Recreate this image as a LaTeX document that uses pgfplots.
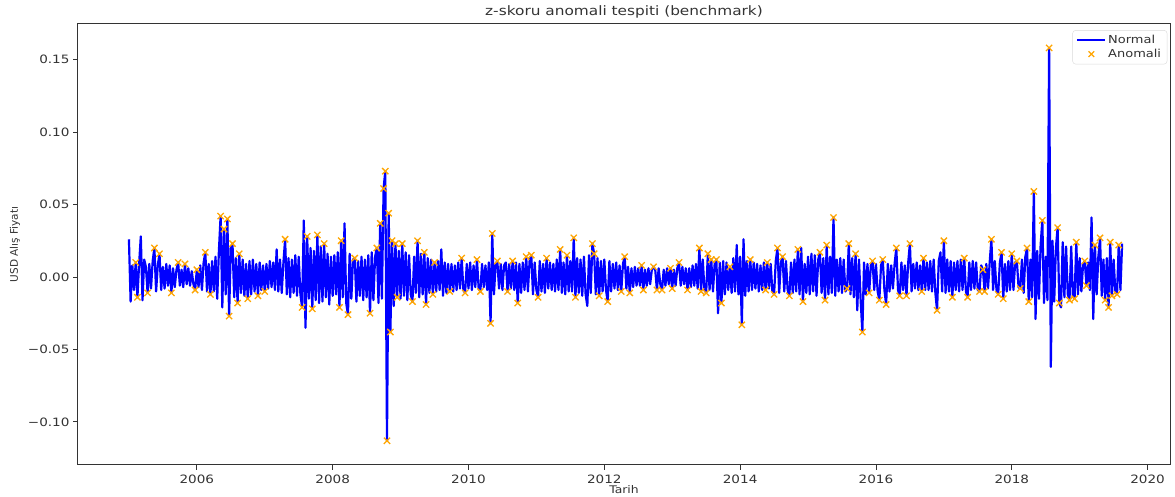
\documentclass[border=0pt]{standalone}
\usepackage{fontspec}
\setmainfont[FakeStretch=1.18]{DejaVu Sans}
\newfontfamily\ylfont{DejaVu Sans}
\usepackage{pgfplots}
\usepackage{pgfplotstable}
\pgfplotsset{compat=1.18}
\definecolor{mplorange}{HTML}{FFA500}
\definecolor{mplblue}{HTML}{0000FF}
\definecolor{axgray}{HTML}{333333}

% daily USD change, one value per 0.025 year starting 2005.0
\pgfplotstableread[header=false,row sep=\\]{
0.026\\ -0.017\\ 0.008\\ -0.009\\ 0.010\\ -0.014\\ 0.009\\ 0.028\\ -0.016\\ 0.012\\
0.007\\ -0.011\\ 0.009\\ -0.008\\ 0.011\\ 0.020\\ -0.010\\ 0.008\\ 0.016\\ -0.009\\
0.007\\ -0.008\\ 0.009\\ -0.006\\ 0.008\\ -0.011\\ 0.006\\ -0.007\\ 0.005\\ 0.010\\
-0.006\\ 0.005\\ -0.007\\ 0.009\\ -0.005\\ 0.006\\ -0.006\\ 0.004\\ -0.005\\ -0.009\\
0.005\\ -0.007\\ 0.008\\ -0.009\\ 0.010\\ 0.017\\ -0.010\\ 0.009\\ -0.012\\ 0.011\\
-0.010\\ 0.014\\ -0.015\\ 0.018\\ 0.042\\ -0.021\\ 0.033\\ -0.012\\ 0.040\\ -0.027\\
0.020\\ 0.023\\ -0.014\\ 0.013\\ -0.018\\ 0.016\\ -0.011\\ 0.012\\ -0.013\\ 0.009\\
-0.015\\ 0.011\\ -0.012\\ 0.012\\ -0.010\\ 0.009\\ -0.013\\ 0.010\\ -0.009\\ 0.008\\
-0.010\\ 0.009\\ -0.008\\ 0.011\\ -0.007\\ 0.010\\ -0.009\\ 0.019\\ -0.010\\ 0.012\\
-0.011\\ 0.010\\ 0.026\\ -0.012\\ 0.013\\ -0.014\\ 0.012\\ -0.011\\ 0.015\\ -0.013\\
0.014\\ -0.012\\ -0.021\\ 0.039\\ -0.035\\ 0.028\\ -0.015\\ 0.020\\ -0.022\\ 0.018\\
-0.016\\ 0.029\\ -0.018\\ 0.021\\ -0.017\\ 0.023\\ -0.014\\ 0.016\\ -0.019\\ 0.014\\
-0.013\\ 0.015\\ -0.012\\ 0.017\\ -0.021\\ 0.025\\ -0.014\\ 0.037\\ -0.018\\ -0.026\\
0.016\\ -0.015\\ 0.012\\ 0.013\\ -0.017\\ 0.011\\ -0.013\\ 0.014\\ -0.016\\ 0.012\\
-0.014\\ 0.015\\ -0.025\\ 0.017\\ -0.016\\ 0.014\\ 0.020\\ -0.018\\ 0.037\\ -0.015\\
0.061\\ 0.073\\ -0.113\\ 0.044\\ -0.038\\ 0.025\\ -0.020\\ 0.023\\ -0.014\\ 0.018\\
-0.015\\ 0.023\\ -0.013\\ 0.017\\ -0.016\\ 0.015\\ -0.012\\ -0.017\\ 0.014\\ -0.011\\
0.025\\ -0.014\\ 0.016\\ -0.012\\ 0.017\\ -0.019\\ 0.013\\ -0.011\\ 0.012\\ -0.012\\
0.010\\ -0.010\\ 0.011\\ -0.009\\ 0.019\\ -0.013\\ 0.010\\ -0.011\\ 0.009\\ -0.010\\
0.009\\ -0.010\\ 0.008\\ -0.009\\ 0.010\\ -0.008\\ 0.013\\ -0.009\\ -0.011\\ 0.009\\
-0.008\\ 0.010\\ -0.009\\ 0.008\\ -0.007\\ 0.012\\ -0.008\\ -0.010\\ 0.009\\ -0.007\\
0.008\\ -0.009\\ 0.010\\ -0.032\\ 0.030\\ -0.012\\ 0.009\\ 0.011\\ -0.008\\ 0.009\\
-0.009\\ 0.008\\ 0.010\\ -0.010\\ 0.009\\ -0.008\\ 0.011\\ -0.009\\ 0.010\\ -0.018\\
0.009\\ -0.011\\ 0.010\\ -0.009\\ 0.014\\ -0.010\\ 0.011\\ 0.015\\ -0.012\\ 0.010\\
-0.009\\ -0.014\\ 0.011\\ -0.010\\ 0.009\\ -0.011\\ 0.013\\ -0.008\\ 0.010\\ -0.009\\
0.009\\ -0.010\\ 0.012\\ -0.009\\ 0.019\\ -0.011\\ 0.010\\ -0.012\\ 0.015\\ -0.010\\
0.011\\ -0.010\\ 0.027\\ -0.014\\ 0.013\\ -0.011\\ 0.012\\ -0.013\\ 0.014\\ -0.012\\
-0.020\\ 0.015\\ -0.011\\ 0.023\\ 0.016\\ -0.012\\ 0.013\\ -0.013\\ 0.011\\ -0.010\\
0.012\\ -0.009\\ -0.017\\ 0.011\\ -0.010\\ 0.009\\ -0.008\\ 0.010\\ -0.009\\ 0.008\\
-0.010\\ 0.009\\ 0.014\\ -0.008\\ 0.007\\ -0.011\\ 0.006\\ -0.007\\ 0.007\\ -0.006\\
0.006\\ -0.006\\ 0.008\\ -0.009\\ 0.005\\ -0.006\\ 0.006\\ -0.005\\ 0.005\\ 0.007\\
0.005\\ -0.009\\ 0.006\\ -0.005\\ -0.009\\ 0.005\\ -0.006\\ 0.006\\ -0.005\\ 0.006\\
-0.008\\ 0.005\\ -0.006\\ 0.006\\ 0.010\\ -0.006\\ 0.007\\ -0.005\\ 0.006\\ -0.009\\
0.006\\ -0.007\\ 0.008\\ -0.006\\ 0.009\\ -0.008\\ 0.020\\ -0.010\\ 0.012\\ -0.009\\
-0.011\\ 0.016\\ -0.009\\ 0.012\\ -0.010\\ 0.009\\ 0.012\\ -0.025\\ 0.010\\ -0.018\\
0.011\\ -0.012\\ 0.010\\ -0.009\\ 0.007\\ -0.011\\ 0.013\\ -0.010\\ 0.022\\ -0.012\\
0.014\\ -0.033\\ 0.026\\ -0.013\\ 0.011\\ -0.010\\ 0.012\\ -0.009\\ 0.010\\ -0.008\\
0.009\\ -0.010\\ 0.008\\ -0.009\\ 0.010\\ -0.009\\ 0.010\\ -0.008\\ 0.009\\ -0.010\\
-0.012\\ 0.011\\ 0.020\\ -0.011\\ 0.010\\ 0.014\\ -0.010\\ 0.011\\ -0.009\\ -0.013\\
0.010\\ -0.011\\ 0.012\\ -0.010\\ 0.019\\ -0.012\\ 0.020\\ -0.017\\ 0.009\\ -0.011\\
0.014\\ -0.012\\ 0.016\\ -0.010\\ 0.015\\ -0.013\\ 0.012\\ 0.017\\ -0.011\\ 0.013\\
-0.016\\ 0.022\\ -0.012\\ 0.014\\ -0.011\\ 0.041\\ -0.013\\ 0.012\\ -0.010\\ 0.013\\
-0.011\\ 0.012\\ -0.010\\ -0.008\\ 0.023\\ -0.012\\ 0.013\\ -0.014\\ 0.016\\ -0.023\\
0.012\\ -0.016\\ -0.038\\ 0.010\\ -0.012\\ 0.009\\ -0.011\\ 0.008\\ 0.011\\ -0.009\\
0.009\\ -0.010\\ -0.016\\ 0.008\\ 0.012\\ -0.009\\ -0.019\\ 0.009\\ -0.010\\ 0.008\\
-0.008\\ 0.009\\ 0.020\\ -0.009\\ -0.013\\ 0.010\\ -0.009\\ 0.008\\ -0.013\\ 0.010\\
0.023\\ -0.010\\ 0.009\\ -0.008\\ 0.010\\ -0.009\\ 0.008\\ -0.010\\ 0.013\\ -0.009\\
0.010\\ -0.009\\ 0.011\\ -0.010\\ 0.012\\ -0.011\\ -0.023\\ 0.011\\ 0.017\\ -0.010\\
0.025\\ -0.011\\ 0.012\\ -0.010\\ 0.011\\ -0.014\\ 0.010\\ -0.009\\ 0.011\\ -0.010\\
0.012\\ -0.009\\ 0.013\\ -0.010\\ -0.014\\ 0.010\\ -0.009\\ 0.011\\ -0.008\\ 0.010\\
-0.009\\ -0.010\\ 0.008\\ 0.005\\ -0.010\\ 0.009\\ -0.008\\ 0.010\\ 0.026\\ -0.009\\
0.011\\ -0.009\\ -0.012\\ 0.010\\ 0.017\\ -0.015\\ 0.009\\ -0.010\\ 0.011\\ -0.009\\
0.016\\ -0.009\\ 0.010\\ 0.011\\ -0.007\\ -0.008\\ 0.012\\ -0.011\\ 0.014\\ 0.020\\
-0.017\\ 0.012\\ -0.014\\ 0.059\\ -0.029\\ 0.018\\ -0.015\\ 0.022\\ 0.039\\ -0.018\\
0.014\\ -0.016\\ 0.158\\ -0.062\\ 0.025\\ -0.017\\ 0.020\\ 0.034\\ -0.018\\ -0.021\\
0.024\\ -0.014\\ 0.021\\ -0.012\\ -0.016\\ 0.021\\ -0.013\\ -0.015\\ 0.024\\ -0.012\\
0.013\\ -0.010\\ 0.009\\ 0.011\\ -0.006\\ 0.010\\ -0.009\\ 0.041\\ -0.029\\ 0.022\\
-0.012\\ 0.014\\ 0.027\\ -0.013\\ 0.012\\ -0.016\\ 0.013\\ -0.021\\ 0.024\\ -0.013\\
0.012\\ -0.010\\ -0.012\\ 0.022\\ -0.009\\ 0.023\\
}\usdret

\begin{document}
\begin{tikzpicture}
\begin{axis}[
  at={(0,0)}, anchor=south west,
  scale only axis, width=1092pt, height=441pt,
  xmin=2004.25, xmax=2020.33, ymin=-0.1297, ymax=0.1745,
  xtick={2006,2008,2010,2012,2014,2016,2018,2020},
  xticklabels={2006,2008,2010,2012,2014,2016,2018,2020},
  ytick={-0.10,-0.05,0,0.05,0.10,0.15},
  yticklabels={−0.10,−0.05,0.00,0.05,0.10,0.15},
  xtick pos=lower, ytick pos=left,
  tick align=outside, major tick length=5pt,
  tick style={axgray, line width=0.9pt},
  axis line style={axgray, line width=1pt},
  ticklabel style={font=\fontsize{11.5}{13}\selectfont, text=axgray},
  xticklabel style={yshift=-1pt},
  title={z-skoru anomali tespiti (benchmark)},
  every axis title shift=0pt,
  title style={font=\fontsize{13}{15}\selectfont, text=axgray, at={(axis description cs:0.5,1.0272)}, anchor=center, yshift=0pt},
  xlabel={Tarih},
  xlabel style={font=\fontsize{10.5}{12}\selectfont, text=axgray, at={(axis description cs:0.5,-0.0567)}, anchor=center},
  ylabel={\ylfont USD Alış Fiyatı},
  ylabel style={font=\fontsize{10.5}{12}\selectfont, text=axgray, at={(axis description cs:-0.0577,0.5)}, anchor=center},
  legend style={at={(axis description cs:0.9975,0.986)}, anchor=north east,
    draw=black!15, rounded corners=3pt, fill=white,
    font=\fontsize{11}{12}\selectfont, text=axgray,
    inner xsep=4pt, inner ysep=3pt, row sep=0pt},
  legend cell align=left,
]
\addplot[mplblue, line width=2.2pt, line join=round, mark=none,
  legend image code/.code={\draw[mplblue, line width=1.6pt] (0pt,0pt) -- (28pt,0pt);}]
  table[x expr=2005+\coordindex*0.025, y index=0] {\usdret};
\addlegendentry{Normal}
\addplot[only marks, mark=x, mark size=4.4pt, mark options={mplorange, line width=1.3pt},
  legend image code/.code={\draw[mplorange, line width=1.3pt] plot[mark=x, mark size=4pt] coordinates {(14pt,0pt)};}]
  coordinates {
(2005.1,0.010) (2005.125,-0.014) (2005.275,-0.011) (2005.375,0.020) (2005.45,0.016)
(2005.625,-0.011) (2005.725,0.010) (2005.825,0.009) (2005.975,-0.009) (2006.0,0.005)
(2006.125,0.017) (2006.2,-0.012) (2006.35,0.042) (2006.4,0.033) (2006.45,0.040)
(2006.475,-0.027) (2006.525,0.023) (2006.6,-0.018) (2006.625,0.016) (2006.75,-0.015)
(2006.9,-0.013) (2007.0,-0.010) (2007.3,0.026) (2007.55,-0.021) (2007.625,0.028)
(2007.7,-0.022) (2007.775,0.029) (2007.875,0.023) (2008.1,-0.021) (2008.125,0.025)
(2008.225,-0.026) (2008.325,0.013) (2008.55,-0.025) (2008.65,0.020) (2008.7,0.037)
(2008.75,0.061) (2008.775,0.073) (2008.8,-0.113) (2008.825,0.044) (2008.85,-0.038)
(2008.875,0.025) (2008.925,0.023) (2008.95,-0.014) (2009.025,0.023) (2009.175,-0.017)
(2009.25,0.025) (2009.35,0.017) (2009.375,-0.019) (2009.475,-0.012) (2009.5,0.010)
(2009.725,-0.010) (2009.9,0.013) (2009.95,-0.011) (2010.125,0.012) (2010.175,-0.010)
(2010.325,-0.032) (2010.35,0.030) (2010.425,0.011) (2010.575,-0.010) (2010.65,0.011)
(2010.725,-0.018) (2010.85,0.014) (2010.925,0.015) (2011.025,-0.014) (2011.15,0.013)
(2011.35,0.019) (2011.45,0.015) (2011.55,0.027) (2011.575,-0.014) (2011.825,0.023)
(2011.85,0.016) (2011.925,-0.013) (2012.05,-0.017) (2012.25,-0.010) (2012.3,0.014)
(2012.375,-0.011) (2012.55,0.008) (2012.575,-0.009) (2012.725,0.007) (2012.775,-0.009)
(2012.85,-0.009) (2012.975,0.006) (2013.0,-0.008) (2013.1,0.010) (2013.225,-0.009)
(2013.4,0.020) (2013.425,-0.010) (2013.5,-0.011) (2013.525,0.016) (2013.575,0.012)
(2013.65,0.012) (2013.725,-0.018) (2013.85,0.007) (2014.025,-0.033) (2014.15,0.012)
(2014.375,-0.009) (2014.4,0.010) (2014.5,-0.012) (2014.55,0.020) (2014.625,0.014)
(2014.725,-0.013) (2014.85,0.019) (2014.925,-0.017) (2015.175,0.017) (2015.25,-0.016)
(2015.275,0.022) (2015.375,0.041) (2015.575,-0.008) (2015.6,0.023) (2015.7,0.016)
(2015.8,-0.038) (2015.9,-0.011) (2015.95,0.011) (2016.05,-0.016) (2016.1,0.012)
(2016.15,-0.019) (2016.3,0.020) (2016.35,-0.013) (2016.45,-0.013) (2016.5,0.023)
(2016.675,-0.010) (2016.7,0.013) (2016.9,-0.023) (2017.0,0.025) (2017.125,-0.014)
(2017.3,0.013) (2017.35,-0.014) (2017.525,-0.010) (2017.575,0.005) (2017.6,-0.010)
(2017.7,0.026) (2017.8,-0.012) (2017.85,0.017) (2017.875,-0.015) (2018.0,0.016)
(2018.075,0.011) (2018.125,-0.008) (2018.225,0.020) (2018.25,-0.017) (2018.325,0.059)
(2018.45,0.039) (2018.55,0.158) (2018.675,0.034) (2018.7,-0.018) (2018.85,-0.016)
(2018.925,-0.015) (2018.95,0.024) (2019.075,0.011) (2019.1,-0.006) (2019.225,0.022)
(2019.3,0.027) (2019.375,-0.016) (2019.425,-0.021) (2019.45,0.024) (2019.475,-0.013)
(2019.55,-0.012) (2019.575,0.022)
};
\addlegendentry{Anomali}
\end{axis}
\pgfresetboundingbox
\path[use as bounding box] (-78pt,-32pt) rectangle (1097pt,465pt);
\end{tikzpicture}
\end{document}
